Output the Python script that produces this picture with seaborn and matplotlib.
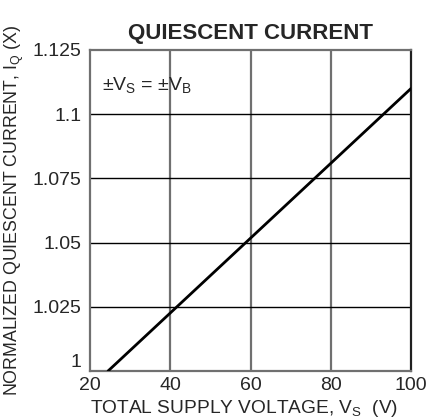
import numpy as np
import pandas as pd
import seaborn as sns
import matplotlib.pyplot as plt

# values
supply_voltage = [24.5, 100]
quiescent_norm = [1.0, 1.110]
x_ticks = [20, 40, 60, 80, 100]
y_ticks = [1.0, 1.025, 1.05, 1.075, 1.1, 1.125]
y_labels = ["1", "1.025", "1.05", "1.075", "1.1", "1.125"]

sns.set_style("white")
plt.rcParams['font.family'] = ['Liberation Sans', 'DejaVu Sans']
plt.rcParams['mathtext.fontset'] = 'custom'
plt.rcParams['mathtext.rm'] = 'Liberation Sans'

df = pd.DataFrame({"vs": supply_voltage, "iq": quiescent_norm})

fig = plt.figure(figsize=(4.29, 4.18), dpi=100)
ax = fig.add_axes([90 / 429, 1 - 371 / 418, 321 / 429, 321 / 418])

# grid: vertical lines gray, horizontal black
for x in x_ticks[1:-1]:
    ax.axvline(x, color="#707070", lw=1.6, zorder=1)
for y in y_ticks[1:-1]:
    ax.axhline(y, color="black", lw=1.0, zorder=1)

sns.lineplot(data=df, x="vs", y="iq", ax=ax, color="black", lw=2.0, zorder=3)

ax.set_xlim(20, 100)
ax.set_ylim(1.0, 1.125)
ax.set_xticks(x_ticks)
ax.set_yticks(y_ticks)
ax.set_yticklabels(y_labels)
ax.tick_params(length=0, labelsize=14)
ax.tick_params(axis="y", pad=6)
ax.tick_params(axis="x", pad=4)
# bottom "1" sits just above the axis line in the original
ax.get_yticklabels()[0].set_va("bottom")

for side in ["left", "bottom", "top"]:
    ax.spines[side].set_color("#707070")
    ax.spines[side].set_linewidth(1.6)
ax.spines["right"].set_color("#202020")
ax.spines["right"].set_linewidth(1.6)

ax.set_xlabel(r"TOTAL SUPPLY VOLTAGE, V$_\mathregular{S}$  (V)", fontsize=13.8)
ax.set_ylabel(r"NORMALIZED QUIESCENT CURRENT, I$_\mathregular{Q}$ (X)", fontsize=12.8)
ax.xaxis.set_label_coords(0.48, -0.085)
ax.yaxis.set_label_coords(-0.2, 0.5)
ax.set_title("QUIESCENT CURRENT", fontsize=16, fontweight="bold", pad=8)

ax.text(23, 1.111, r"$\pm$V$_\mathregular{S}$ = $\pm$V$_\mathregular{B}$", fontsize=14,
        va="center", ha="left")

fig.savefig("out.png", dpi=100)
